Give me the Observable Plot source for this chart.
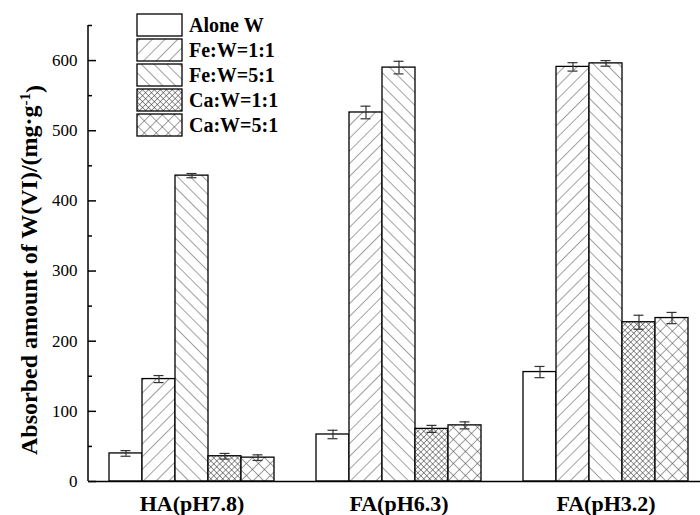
<!DOCTYPE html>
<html><head><meta charset="utf-8">
<script src="https://cdn.jsdelivr.net/npm/d3@7"></script>
<script src="https://cdn.jsdelivr.net/npm/@observablehq/plot@0.6"></script>
<style>
body{margin:0;background:#fff}
#chart{position:relative;width:700px;height:515px}
</style>
</head><body><div id="chart"></div>
<script>
const groups = ["HA(pH7.8)", "FA(pH6.3)", "FA(pH3.2)"];
const series = ["Alone W", "Fe:W=1:1", "Fe:W=5:1", "Ca:W=1:1", "Ca:W=5:1"];
const haValues   = [40, 146, 436, 36, 34];
const fa63Values = [67, 526, 590, 75, 80];
const fa32Values = [156, 591, 596, 227, 233];
const haErrors   = [4, 5, 3, 4, 4];
const fa63Errors = [6, 9, 9, 5, 5];
const fa32Errors = [8, 6, 4, 10, 8];
const yMajorTicks = [0, 100, 200, 300, 400, 500, 600];
const yMinorTicks = [50, 150, 250, 350, 450, 550, 650];
const yTitle = "Absorbed amount of W(VI)/(mg·g";
const yTitleSup = "-1";

const valuesByGroup = [haValues, fa63Values, fa32Values];
const errorsByGroup = [haErrors, fa63Errors, fa32Errors];
const fills = ["white", "url(#pFe1)", "url(#pFe5)", "url(#pCa1)", "url(#pCa5)"];
const FONT = "'Liberation Serif', 'Times New Roman', serif";

const rows = groups.flatMap((g, i) => series.map((s, j) => ({
  group: g, series: s, value: valuesByGroup[i][j], err: errorsByGroup[i][j]
})));

const chart = Plot.plot({
  width: 700, height: 515,
  marginLeft: 88, marginRight: 0, marginTop: 25, marginBottom: 34,
  style: {fontFamily: FONT, fontSize: "17px", color: "#000", background: "#fff"},
  fx: {domain: groups, range: [88, 709], padding: 0, label: null},
  x: {domain: series, paddingInner: 0, paddingOuter: 0.6, axis: null},
  y: {domain: [0, 650]},
  color: {domain: series, range: fills},
  marks: [
    Plot.barY(rows, {fx: "group", x: "series", y: "value", fill: "series", stroke: "#000", strokeWidth: 1.3}),
    Plot.ruleX(rows, {fx: "group", x: "series", y1: d => d.value - d.err, y2: d => d.value + d.err, stroke: "#333", strokeWidth: 1.2}),
    Plot.tickY(rows, {fx: "group", x: "series", y: d => d.value + d.err, insetLeft: 11.5, insetRight: 11.5, stroke: "#333", strokeWidth: 1.2}),
    Plot.tickY(rows, {fx: "group", x: "series", y: d => d.value - d.err, insetLeft: 11.5, insetRight: 11.5, stroke: "#333", strokeWidth: 1.2}),
    Plot.ruleY([0], {stroke: "#000", strokeWidth: 1.5}),
    Plot.axisY({ticks: yMajorTicks, tickSize: 0, tickPadding: 11, label: null, fontSize: 17}),
    Plot.axisY({ticks: yMajorTicks, tickSize: -8, tickPadding: 0, tickFormat: () => "", label: null, strokeWidth: 1.5}),
    Plot.axisY({ticks: yMinorTicks, tickSize: -4, tickPadding: 0, tickFormat: () => "", label: null, strokeWidth: 1.5}),
    Plot.axisFx({anchor: "bottom", tickSize: 0, tickPadding: 14, label: null, fontSize: 22, fontWeight: "bold"})
  ]
});

document.getElementById("chart").appendChild(chart);
const svg = d3.select(chart);
const defs = svg.insert("defs", ":first-child");
function hatch(id, size, angle, cross, color, w) {
  const p = defs.append("pattern").attr("id", id).attr("patternUnits", "userSpaceOnUse")
    .attr("width", size).attr("height", size).attr("patternTransform", `rotate(${angle})`);
  p.append("rect").attr("width", size).attr("height", size).attr("fill", "#fff");
  p.append("line").attr("x1", 0).attr("y1", 0).attr("x2", 0).attr("y2", size).attr("stroke", color).attr("stroke-width", w);
  if (cross) p.append("line").attr("x1", 0).attr("y1", 0).attr("x2", size).attr("y2", 0).attr("stroke", color).attr("stroke-width", w);
}
hatch("pFe1", 9, 45, false, "#444", 1);
hatch("pFe5", 9, -45, false, "#444", 1);
hatch("pCa1", 4.2, 45, true, "#333", 1);
hatch("pCa5", 8.5, 45, true, "#444", 1);

// y axis line, placed with the plot's own y scale
const yScale = chart.scale("y");
svg.append("line")
  .attr("x1", 88).attr("x2", 88)
  .attr("y1", yScale.apply(0)).attr("y2", yScale.apply(650))
  .attr("stroke", "#000").attr("stroke-width", 1.5);

// legend
const leg = svg.append("g").attr("font-family", FONT).attr("text-anchor", "start");
series.forEach((s, i) => {
  const y0 = 14 + 25 * i;
  leg.append("rect").attr("x", 137).attr("y", y0).attr("width", 45).attr("height", 22)
    .attr("fill", fills[i]).attr("stroke", "#000").attr("stroke-width", 1.3);
  leg.append("text").attr("x", 189).attr("y", y0 + 11).attr("dy", "0.35em")
    .attr("font-size", 20).attr("font-weight", "bold").text(s);
});

// y title
const t = svg.append("text")
  .attr("transform", "translate(37,270) rotate(-90)")
  .attr("text-anchor", "middle")
  .attr("font-family", FONT)
  .attr("font-size", 24).attr("font-weight", "bold");
t.append("tspan").text(yTitle);
t.append("tspan").attr("dy", "-0.5em").attr("font-size", 15).text(yTitleSup);
t.append("tspan").attr("dy", "0.5em").text(")");
</script>
</body></html>
